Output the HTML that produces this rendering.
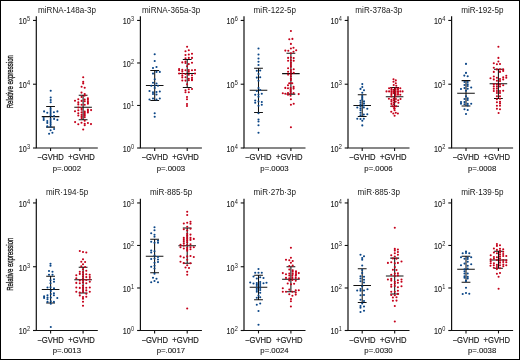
<!DOCTYPE html><html><head><meta charset="utf-8"><style>html,body{margin:0;padding:0;background:#fff;}svg{display:block;will-change:transform;}text{font-family:"Liberation Sans",sans-serif;fill:#1a1a1a;}</style></head><body>
<svg width="520" height="360" viewBox="0 0 520 360">
<rect x="0" y="0" width="520" height="360" fill="#fff"/>
<rect x="0.5" y="0.5" width="519" height="359" fill="none" stroke="#000" stroke-width="1"/>
<text transform="translate(12.6,81.65) rotate(-90)" text-anchor="middle" font-size="9.4" textLength="53.3" lengthAdjust="spacingAndGlyphs" stroke="#1a1a1a" stroke-width="0.35">Relative expression</text>
<text transform="translate(67.05,12.70) scale(0.9643,1)" font-size="8.4" text-anchor="middle">miRNA-148a-3p</text>
<path d="M36.30 16.35V148.00H97.80" fill="none" stroke="#111" stroke-width="1.2"/>
<path d="M50.55 148.00V150.90" stroke="#111" stroke-width="1.1"/>
<path d="M79.90 148.00V150.90" stroke="#111" stroke-width="1.1"/>
<path d="M33.00 148.00H36.30" stroke="#111" stroke-width="1.1"/>
<text transform="translate(26.70,151.90) scale(0.8675,1)" font-size="8.3" text-anchor="end" stroke="#1a1a1a" stroke-width="0.12">10</text>
<text transform="translate(27.00,148.80) scale(0.8750,1)" font-size="6.4" text-anchor="start">3</text>
<path d="M33.00 84.22H36.30" stroke="#111" stroke-width="1.1"/>
<text transform="translate(26.70,88.12) scale(0.8675,1)" font-size="8.3" text-anchor="end" stroke="#1a1a1a" stroke-width="0.12">10</text>
<text transform="translate(27.00,85.02) scale(0.8750,1)" font-size="6.4" text-anchor="start">4</text>
<path d="M33.00 20.45H36.30" stroke="#111" stroke-width="1.1"/>
<text transform="translate(26.70,24.35) scale(0.8675,1)" font-size="8.3" text-anchor="end" stroke="#1a1a1a" stroke-width="0.12">10</text>
<text transform="translate(27.00,21.25) scale(0.8750,1)" font-size="6.4" text-anchor="start">5</text>
<text transform="translate(50.60,160.30) scale(0.8793,1)" font-size="8.7" text-anchor="middle" stroke="#1a1a1a" stroke-width="0.18">−GVHD</text>
<text transform="translate(81.50,160.30) scale(0.8793,1)" font-size="8.7" text-anchor="middle" stroke="#1a1a1a" stroke-width="0.18">+GVHD</text>
<text transform="translate(66.80,170.60) scale(0.9873,1)" font-size="7.9" text-anchor="middle" stroke="#1a1a1a" stroke-width="0.12">p=.0002</text>
<path d="M50.55 106.40V127.10M46.15 106.40H54.95M46.15 127.10H54.95M41.75 116.60H59.35" fill="none" stroke="#111" stroke-width="1.05"/>
<path d="M83.10 95.30V119.70M78.70 95.30H87.50M78.70 119.70H87.50M74.30 107.30H91.90" fill="none" stroke="#111" stroke-width="1.05"/>
<circle cx="50.70" cy="90.80" r="1.05" fill="#0b4687"/>
<circle cx="50.70" cy="97.50" r="1.05" fill="#0b4687"/>
<circle cx="50.70" cy="100.00" r="1.05" fill="#0b4687"/>
<circle cx="50.70" cy="102.30" r="1.05" fill="#0b4687"/>
<circle cx="50.60" cy="108.20" r="1.05" fill="#0b4687"/>
<circle cx="50.60" cy="110.10" r="1.05" fill="#0b4687"/>
<circle cx="50.60" cy="112.00" r="1.05" fill="#0b4687"/>
<circle cx="50.60" cy="113.90" r="1.05" fill="#0b4687"/>
<circle cx="50.60" cy="115.80" r="1.05" fill="#0b4687"/>
<circle cx="50.60" cy="119.10" r="1.05" fill="#0b4687"/>
<circle cx="50.60" cy="121.00" r="1.05" fill="#0b4687"/>
<circle cx="50.60" cy="122.90" r="1.05" fill="#0b4687"/>
<circle cx="50.60" cy="124.80" r="1.05" fill="#0b4687"/>
<circle cx="50.60" cy="126.70" r="1.05" fill="#0b4687"/>
<circle cx="44.10" cy="111.40" r="1.05" fill="#0b4687"/>
<circle cx="47.30" cy="112.80" r="1.05" fill="#0b4687"/>
<circle cx="53.90" cy="112.30" r="1.05" fill="#0b4687"/>
<circle cx="57.40" cy="111.40" r="1.05" fill="#0b4687"/>
<circle cx="43.70" cy="118.00" r="1.05" fill="#0b4687"/>
<circle cx="43.70" cy="119.90" r="1.05" fill="#0b4687"/>
<circle cx="54.10" cy="116.10" r="1.05" fill="#0b4687"/>
<circle cx="54.10" cy="118.90" r="1.05" fill="#0b4687"/>
<circle cx="57.40" cy="119.90" r="1.05" fill="#0b4687"/>
<circle cx="47.30" cy="121.00" r="1.05" fill="#0b4687"/>
<circle cx="47.30" cy="122.90" r="1.05" fill="#0b4687"/>
<circle cx="47.30" cy="126.40" r="1.05" fill="#0b4687"/>
<circle cx="50.60" cy="130.30" r="1.05" fill="#0b4687"/>
<circle cx="54.10" cy="129.00" r="1.05" fill="#0b4687"/>
<circle cx="49.10" cy="133.70" r="1.05" fill="#0b4687"/>
<circle cx="52.40" cy="132.80" r="1.05" fill="#0b4687"/>
<circle cx="83.20" cy="77.30" r="1.05" fill="#c5001a"/>
<circle cx="83.20" cy="81.80" r="1.05" fill="#c5001a"/>
<circle cx="83.20" cy="83.40" r="1.05" fill="#c5001a"/>
<circle cx="81.60" cy="86.80" r="1.05" fill="#c5001a"/>
<circle cx="84.70" cy="87.80" r="1.05" fill="#c5001a"/>
<circle cx="81.50" cy="92.60" r="1.05" fill="#c5001a"/>
<circle cx="84.70" cy="94.00" r="1.05" fill="#c5001a"/>
<circle cx="84.70" cy="95.60" r="1.05" fill="#c5001a"/>
<circle cx="81.60" cy="96.90" r="1.05" fill="#c5001a"/>
<circle cx="78.30" cy="99.20" r="1.05" fill="#c5001a"/>
<circle cx="75.00" cy="100.80" r="1.05" fill="#c5001a"/>
<circle cx="78.30" cy="102.40" r="1.05" fill="#c5001a"/>
<circle cx="78.30" cy="104.40" r="1.05" fill="#c5001a"/>
<circle cx="81.60" cy="100.90" r="1.05" fill="#c5001a"/>
<circle cx="81.60" cy="104.70" r="1.05" fill="#c5001a"/>
<circle cx="84.70" cy="99.50" r="1.05" fill="#c5001a"/>
<circle cx="84.70" cy="101.20" r="1.05" fill="#c5001a"/>
<circle cx="84.70" cy="104.70" r="1.05" fill="#c5001a"/>
<circle cx="87.90" cy="98.20" r="1.05" fill="#c5001a"/>
<circle cx="87.90" cy="99.80" r="1.05" fill="#c5001a"/>
<circle cx="87.90" cy="101.20" r="1.05" fill="#c5001a"/>
<circle cx="87.90" cy="102.70" r="1.05" fill="#c5001a"/>
<circle cx="87.90" cy="103.80" r="1.05" fill="#c5001a"/>
<circle cx="78.30" cy="107.50" r="1.05" fill="#c5001a"/>
<circle cx="78.30" cy="110.30" r="1.05" fill="#c5001a"/>
<circle cx="78.30" cy="113.20" r="1.05" fill="#c5001a"/>
<circle cx="78.30" cy="115.50" r="1.05" fill="#c5001a"/>
<circle cx="75.00" cy="111.20" r="1.05" fill="#c5001a"/>
<circle cx="81.60" cy="108.30" r="1.05" fill="#c5001a"/>
<circle cx="81.60" cy="109.80" r="1.05" fill="#c5001a"/>
<circle cx="81.60" cy="112.40" r="1.05" fill="#c5001a"/>
<circle cx="81.60" cy="114.70" r="1.05" fill="#c5001a"/>
<circle cx="81.60" cy="116.40" r="1.05" fill="#c5001a"/>
<circle cx="81.60" cy="118.10" r="1.05" fill="#c5001a"/>
<circle cx="84.70" cy="111.50" r="1.05" fill="#c5001a"/>
<circle cx="84.70" cy="112.90" r="1.05" fill="#c5001a"/>
<circle cx="84.70" cy="114.40" r="1.05" fill="#c5001a"/>
<circle cx="84.70" cy="115.80" r="1.05" fill="#c5001a"/>
<circle cx="84.70" cy="117.30" r="1.05" fill="#c5001a"/>
<circle cx="87.90" cy="109.50" r="1.05" fill="#c5001a"/>
<circle cx="87.90" cy="110.90" r="1.05" fill="#c5001a"/>
<circle cx="87.90" cy="112.40" r="1.05" fill="#c5001a"/>
<circle cx="91.10" cy="110.10" r="1.05" fill="#c5001a"/>
<circle cx="84.70" cy="120.80" r="1.05" fill="#c5001a"/>
<circle cx="75.10" cy="122.10" r="1.05" fill="#c5001a"/>
<circle cx="78.30" cy="124.20" r="1.05" fill="#c5001a"/>
<circle cx="81.50" cy="122.80" r="1.05" fill="#c5001a"/>
<circle cx="84.70" cy="123.70" r="1.05" fill="#c5001a"/>
<circle cx="84.70" cy="125.30" r="1.05" fill="#c5001a"/>
<circle cx="87.90" cy="123.00" r="1.05" fill="#c5001a"/>
<circle cx="91.00" cy="124.10" r="1.05" fill="#c5001a"/>
<circle cx="83.20" cy="129.50" r="1.05" fill="#c5001a"/>
<text transform="translate(171.15,12.70) scale(0.9643,1)" font-size="8.4" text-anchor="middle">miRNA-365a-3p</text>
<path d="M140.40 16.35V148.00H201.90" fill="none" stroke="#111" stroke-width="1.2"/>
<path d="M154.70 148.00V150.90" stroke="#111" stroke-width="1.1"/>
<path d="M187.20 148.00V150.90" stroke="#111" stroke-width="1.1"/>
<path d="M137.10 148.00H140.40" stroke="#111" stroke-width="1.1"/>
<text transform="translate(130.80,151.90) scale(0.8675,1)" font-size="8.3" text-anchor="end" stroke="#1a1a1a" stroke-width="0.12">10</text>
<text transform="translate(131.10,148.80) scale(0.8750,1)" font-size="6.4" text-anchor="start">0</text>
<path d="M137.10 105.48H140.40" stroke="#111" stroke-width="1.1"/>
<text transform="translate(130.80,109.38) scale(0.8675,1)" font-size="8.3" text-anchor="end" stroke="#1a1a1a" stroke-width="0.12">10</text>
<text transform="translate(131.10,106.28) scale(0.8750,1)" font-size="6.4" text-anchor="start">1</text>
<path d="M137.10 62.97H140.40" stroke="#111" stroke-width="1.1"/>
<text transform="translate(130.80,66.87) scale(0.8675,1)" font-size="8.3" text-anchor="end" stroke="#1a1a1a" stroke-width="0.12">10</text>
<text transform="translate(131.10,63.77) scale(0.8750,1)" font-size="6.4" text-anchor="start">2</text>
<path d="M137.10 20.45H140.40" stroke="#111" stroke-width="1.1"/>
<text transform="translate(130.80,24.35) scale(0.8675,1)" font-size="8.3" text-anchor="end" stroke="#1a1a1a" stroke-width="0.12">10</text>
<text transform="translate(131.10,21.25) scale(0.8750,1)" font-size="6.4" text-anchor="start">3</text>
<text transform="translate(154.70,160.30) scale(0.8793,1)" font-size="8.7" text-anchor="middle" stroke="#1a1a1a" stroke-width="0.18">−GVHD</text>
<text transform="translate(185.60,160.30) scale(0.8793,1)" font-size="8.7" text-anchor="middle" stroke="#1a1a1a" stroke-width="0.18">+GVHD</text>
<text transform="translate(170.90,170.60) scale(0.9873,1)" font-size="7.9" text-anchor="middle" stroke="#1a1a1a" stroke-width="0.12">p=.0003</text>
<path d="M154.70 70.50V100.50M150.30 70.50H159.10M150.30 100.50H159.10M145.90 85.50H163.50" fill="none" stroke="#111" stroke-width="1.05"/>
<path d="M187.20 59.40V87.50M182.80 59.40H191.60M182.80 87.50H191.60M178.40 73.50H196.00" fill="none" stroke="#111" stroke-width="1.05"/>
<circle cx="154.70" cy="54.20" r="1.05" fill="#0b4687"/>
<circle cx="154.70" cy="61.00" r="1.05" fill="#0b4687"/>
<circle cx="153.00" cy="68.00" r="1.05" fill="#0b4687"/>
<circle cx="156.50" cy="67.00" r="1.05" fill="#0b4687"/>
<circle cx="153.00" cy="73.60" r="1.05" fill="#0b4687"/>
<circle cx="156.50" cy="71.90" r="1.05" fill="#0b4687"/>
<circle cx="159.80" cy="71.90" r="1.05" fill="#0b4687"/>
<circle cx="154.70" cy="79.20" r="1.05" fill="#0b4687"/>
<circle cx="153.00" cy="82.80" r="1.05" fill="#0b4687"/>
<circle cx="156.50" cy="83.50" r="1.05" fill="#0b4687"/>
<circle cx="151.30" cy="85.80" r="1.05" fill="#0b4687"/>
<circle cx="154.70" cy="85.50" r="1.05" fill="#0b4687"/>
<circle cx="158.00" cy="85.80" r="1.05" fill="#0b4687"/>
<circle cx="154.70" cy="88.00" r="1.05" fill="#0b4687"/>
<circle cx="149.50" cy="91.00" r="1.05" fill="#0b4687"/>
<circle cx="153.00" cy="92.20" r="1.05" fill="#0b4687"/>
<circle cx="156.50" cy="92.00" r="1.05" fill="#0b4687"/>
<circle cx="159.80" cy="91.50" r="1.05" fill="#0b4687"/>
<circle cx="153.00" cy="94.00" r="1.05" fill="#0b4687"/>
<circle cx="156.50" cy="94.50" r="1.05" fill="#0b4687"/>
<circle cx="153.00" cy="98.50" r="1.05" fill="#0b4687"/>
<circle cx="156.50" cy="99.50" r="1.05" fill="#0b4687"/>
<circle cx="159.80" cy="98.50" r="1.05" fill="#0b4687"/>
<circle cx="149.50" cy="99.50" r="1.05" fill="#0b4687"/>
<circle cx="154.70" cy="113.20" r="1.05" fill="#0b4687"/>
<circle cx="154.70" cy="116.70" r="1.05" fill="#0b4687"/>
<circle cx="187.10" cy="46.70" r="1.05" fill="#c5001a"/>
<circle cx="185.50" cy="51.30" r="1.05" fill="#c5001a"/>
<circle cx="188.80" cy="50.30" r="1.05" fill="#c5001a"/>
<circle cx="185.50" cy="55.00" r="1.05" fill="#c5001a"/>
<circle cx="188.80" cy="54.50" r="1.05" fill="#c5001a"/>
<circle cx="192.00" cy="53.70" r="1.05" fill="#c5001a"/>
<circle cx="185.50" cy="58.30" r="1.05" fill="#c5001a"/>
<circle cx="188.80" cy="57.90" r="1.05" fill="#c5001a"/>
<circle cx="192.00" cy="57.90" r="1.05" fill="#c5001a"/>
<circle cx="182.30" cy="62.40" r="1.05" fill="#c5001a"/>
<circle cx="185.50" cy="61.50" r="1.05" fill="#c5001a"/>
<circle cx="185.50" cy="63.00" r="1.05" fill="#c5001a"/>
<circle cx="192.00" cy="62.80" r="1.05" fill="#c5001a"/>
<circle cx="188.80" cy="64.10" r="1.05" fill="#c5001a"/>
<circle cx="187.10" cy="66.30" r="1.05" fill="#c5001a"/>
<circle cx="179.10" cy="69.00" r="1.05" fill="#c5001a"/>
<circle cx="179.10" cy="70.30" r="1.05" fill="#c5001a"/>
<circle cx="179.10" cy="73.50" r="1.05" fill="#c5001a"/>
<circle cx="182.30" cy="69.70" r="1.05" fill="#c5001a"/>
<circle cx="182.30" cy="71.30" r="1.05" fill="#c5001a"/>
<circle cx="182.30" cy="73.50" r="1.05" fill="#c5001a"/>
<circle cx="182.30" cy="75.50" r="1.05" fill="#c5001a"/>
<circle cx="182.30" cy="77.40" r="1.05" fill="#c5001a"/>
<circle cx="182.30" cy="80.50" r="1.05" fill="#c5001a"/>
<circle cx="185.50" cy="70.30" r="1.05" fill="#c5001a"/>
<circle cx="185.50" cy="74.00" r="1.05" fill="#c5001a"/>
<circle cx="185.50" cy="77.20" r="1.05" fill="#c5001a"/>
<circle cx="185.50" cy="80.60" r="1.05" fill="#c5001a"/>
<circle cx="188.80" cy="70.00" r="1.05" fill="#c5001a"/>
<circle cx="188.80" cy="71.70" r="1.05" fill="#c5001a"/>
<circle cx="188.80" cy="74.70" r="1.05" fill="#c5001a"/>
<circle cx="188.80" cy="78.70" r="1.05" fill="#c5001a"/>
<circle cx="188.80" cy="80.30" r="1.05" fill="#c5001a"/>
<circle cx="192.00" cy="70.30" r="1.05" fill="#c5001a"/>
<circle cx="192.00" cy="75.20" r="1.05" fill="#c5001a"/>
<circle cx="192.00" cy="77.70" r="1.05" fill="#c5001a"/>
<circle cx="192.00" cy="79.20" r="1.05" fill="#c5001a"/>
<circle cx="192.00" cy="80.30" r="1.05" fill="#c5001a"/>
<circle cx="195.00" cy="70.00" r="1.05" fill="#c5001a"/>
<circle cx="195.00" cy="73.50" r="1.05" fill="#c5001a"/>
<circle cx="187.10" cy="84.30" r="1.05" fill="#c5001a"/>
<circle cx="185.50" cy="90.30" r="1.05" fill="#c5001a"/>
<circle cx="185.50" cy="92.30" r="1.05" fill="#c5001a"/>
<circle cx="188.80" cy="89.30" r="1.05" fill="#c5001a"/>
<circle cx="188.80" cy="92.30" r="1.05" fill="#c5001a"/>
<circle cx="192.00" cy="89.00" r="1.05" fill="#c5001a"/>
<circle cx="187.00" cy="97.00" r="1.05" fill="#c5001a"/>
<circle cx="187.00" cy="99.20" r="1.05" fill="#c5001a"/>
<circle cx="187.00" cy="104.00" r="1.05" fill="#c5001a"/>
<circle cx="187.00" cy="106.00" r="1.05" fill="#c5001a"/>
<text transform="translate(274.75,12.70) scale(0.9643,1)" font-size="8.4" text-anchor="middle">miR-122-5p</text>
<path d="M244.00 16.35V148.00H305.50" fill="none" stroke="#111" stroke-width="1.2"/>
<path d="M258.50 148.00V150.90" stroke="#111" stroke-width="1.1"/>
<path d="M290.90 148.00V150.90" stroke="#111" stroke-width="1.1"/>
<path d="M240.70 148.00H244.00" stroke="#111" stroke-width="1.1"/>
<text transform="translate(234.40,151.90) scale(0.8675,1)" font-size="8.3" text-anchor="end" stroke="#1a1a1a" stroke-width="0.12">10</text>
<text transform="translate(234.70,148.80) scale(0.8750,1)" font-size="6.4" text-anchor="start">4</text>
<path d="M240.70 84.22H244.00" stroke="#111" stroke-width="1.1"/>
<text transform="translate(234.40,88.12) scale(0.8675,1)" font-size="8.3" text-anchor="end" stroke="#1a1a1a" stroke-width="0.12">10</text>
<text transform="translate(234.70,85.02) scale(0.8750,1)" font-size="6.4" text-anchor="start">5</text>
<path d="M240.70 20.45H244.00" stroke="#111" stroke-width="1.1"/>
<text transform="translate(234.40,24.35) scale(0.8675,1)" font-size="8.3" text-anchor="end" stroke="#1a1a1a" stroke-width="0.12">10</text>
<text transform="translate(234.70,21.25) scale(0.8750,1)" font-size="6.4" text-anchor="start">6</text>
<text transform="translate(258.30,160.30) scale(0.8793,1)" font-size="8.7" text-anchor="middle" stroke="#1a1a1a" stroke-width="0.18">−GVHD</text>
<text transform="translate(289.20,160.30) scale(0.8793,1)" font-size="8.7" text-anchor="middle" stroke="#1a1a1a" stroke-width="0.18">+GVHD</text>
<text transform="translate(274.50,170.60) scale(0.9873,1)" font-size="7.9" text-anchor="middle" stroke="#1a1a1a" stroke-width="0.12">p=.0003</text>
<path d="M258.50 68.30V112.40M254.10 68.30H262.90M254.10 112.40H262.90M249.70 90.30H267.30" fill="none" stroke="#111" stroke-width="1.05"/>
<path d="M290.90 53.20V94.10M286.50 53.20H295.30M286.50 94.10H295.30M282.10 73.60H299.70" fill="none" stroke="#111" stroke-width="1.05"/>
<circle cx="258.50" cy="48.50" r="1.05" fill="#0b4687"/>
<circle cx="258.50" cy="54.50" r="1.05" fill="#0b4687"/>
<circle cx="258.50" cy="58.50" r="1.05" fill="#0b4687"/>
<circle cx="258.50" cy="61.80" r="1.05" fill="#0b4687"/>
<circle cx="258.50" cy="65.00" r="1.05" fill="#0b4687"/>
<circle cx="256.80" cy="70.80" r="1.05" fill="#0b4687"/>
<circle cx="260.20" cy="70.50" r="1.05" fill="#0b4687"/>
<circle cx="258.50" cy="74.00" r="1.05" fill="#0b4687"/>
<circle cx="256.80" cy="77.60" r="1.05" fill="#0b4687"/>
<circle cx="260.20" cy="77.30" r="1.05" fill="#0b4687"/>
<circle cx="258.50" cy="80.80" r="1.05" fill="#0b4687"/>
<circle cx="258.50" cy="88.00" r="1.05" fill="#0b4687"/>
<circle cx="256.80" cy="91.00" r="1.05" fill="#0b4687"/>
<circle cx="260.20" cy="90.00" r="1.05" fill="#0b4687"/>
<circle cx="255.20" cy="94.80" r="1.05" fill="#0b4687"/>
<circle cx="258.50" cy="94.50" r="1.05" fill="#0b4687"/>
<circle cx="261.80" cy="93.80" r="1.05" fill="#0b4687"/>
<circle cx="258.50" cy="96.80" r="1.05" fill="#0b4687"/>
<circle cx="255.20" cy="100.50" r="1.05" fill="#0b4687"/>
<circle cx="255.20" cy="102.80" r="1.05" fill="#0b4687"/>
<circle cx="258.50" cy="101.50" r="1.05" fill="#0b4687"/>
<circle cx="261.80" cy="102.00" r="1.05" fill="#0b4687"/>
<circle cx="261.80" cy="104.80" r="1.05" fill="#0b4687"/>
<circle cx="258.50" cy="105.80" r="1.05" fill="#0b4687"/>
<circle cx="258.50" cy="113.20" r="1.05" fill="#0b4687"/>
<circle cx="258.50" cy="119.50" r="1.05" fill="#0b4687"/>
<circle cx="258.50" cy="121.50" r="1.05" fill="#0b4687"/>
<circle cx="258.50" cy="125.20" r="1.05" fill="#0b4687"/>
<circle cx="258.50" cy="132.80" r="1.05" fill="#0b4687"/>
<circle cx="290.90" cy="31.00" r="1.05" fill="#c5001a"/>
<circle cx="289.30" cy="39.20" r="1.05" fill="#c5001a"/>
<circle cx="292.40" cy="38.90" r="1.05" fill="#c5001a"/>
<circle cx="290.90" cy="43.90" r="1.05" fill="#c5001a"/>
<circle cx="290.90" cy="48.50" r="1.05" fill="#c5001a"/>
<circle cx="293.50" cy="47.80" r="1.05" fill="#c5001a"/>
<circle cx="285.30" cy="50.60" r="1.05" fill="#c5001a"/>
<circle cx="288.30" cy="50.80" r="1.05" fill="#c5001a"/>
<circle cx="296.20" cy="50.20" r="1.05" fill="#c5001a"/>
<circle cx="293.50" cy="51.80" r="1.05" fill="#c5001a"/>
<circle cx="290.90" cy="53.30" r="1.05" fill="#c5001a"/>
<circle cx="288.10" cy="57.90" r="1.05" fill="#c5001a"/>
<circle cx="290.90" cy="57.50" r="1.05" fill="#c5001a"/>
<circle cx="293.70" cy="58.10" r="1.05" fill="#c5001a"/>
<circle cx="288.10" cy="60.80" r="1.05" fill="#c5001a"/>
<circle cx="290.90" cy="60.40" r="1.05" fill="#c5001a"/>
<circle cx="293.70" cy="60.80" r="1.05" fill="#c5001a"/>
<circle cx="290.90" cy="62.90" r="1.05" fill="#c5001a"/>
<circle cx="290.90" cy="65.00" r="1.05" fill="#c5001a"/>
<circle cx="290.90" cy="66.70" r="1.05" fill="#c5001a"/>
<circle cx="288.10" cy="68.30" r="1.05" fill="#c5001a"/>
<circle cx="293.70" cy="69.30" r="1.05" fill="#c5001a"/>
<circle cx="290.90" cy="70.00" r="1.05" fill="#c5001a"/>
<circle cx="288.10" cy="71.70" r="1.05" fill="#c5001a"/>
<circle cx="290.90" cy="72.10" r="1.05" fill="#c5001a"/>
<circle cx="293.70" cy="72.70" r="1.05" fill="#c5001a"/>
<circle cx="288.10" cy="74.60" r="1.05" fill="#c5001a"/>
<circle cx="290.90" cy="74.20" r="1.05" fill="#c5001a"/>
<circle cx="290.90" cy="76.30" r="1.05" fill="#c5001a"/>
<circle cx="290.90" cy="78.60" r="1.05" fill="#c5001a"/>
<circle cx="290.90" cy="80.00" r="1.05" fill="#c5001a"/>
<circle cx="289.20" cy="83.30" r="1.05" fill="#c5001a"/>
<circle cx="290.90" cy="83.30" r="1.05" fill="#c5001a"/>
<circle cx="292.30" cy="83.30" r="1.05" fill="#c5001a"/>
<circle cx="288.00" cy="85.20" r="1.05" fill="#c5001a"/>
<circle cx="285.30" cy="87.90" r="1.05" fill="#c5001a"/>
<circle cx="288.00" cy="88.30" r="1.05" fill="#c5001a"/>
<circle cx="290.60" cy="88.00" r="1.05" fill="#c5001a"/>
<circle cx="290.60" cy="89.70" r="1.05" fill="#c5001a"/>
<circle cx="293.60" cy="86.90" r="1.05" fill="#c5001a"/>
<circle cx="293.60" cy="88.60" r="1.05" fill="#c5001a"/>
<circle cx="290.60" cy="91.30" r="1.05" fill="#c5001a"/>
<circle cx="282.80" cy="93.30" r="1.05" fill="#c5001a"/>
<circle cx="285.30" cy="93.80" r="1.05" fill="#c5001a"/>
<circle cx="288.00" cy="93.00" r="1.05" fill="#c5001a"/>
<circle cx="288.00" cy="94.70" r="1.05" fill="#c5001a"/>
<circle cx="290.60" cy="93.30" r="1.05" fill="#c5001a"/>
<circle cx="290.60" cy="95.80" r="1.05" fill="#c5001a"/>
<circle cx="293.60" cy="93.00" r="1.05" fill="#c5001a"/>
<circle cx="298.70" cy="94.10" r="1.05" fill="#c5001a"/>
<circle cx="290.90" cy="99.30" r="1.05" fill="#c5001a"/>
<circle cx="290.90" cy="104.80" r="1.05" fill="#c5001a"/>
<circle cx="293.70" cy="103.80" r="1.05" fill="#c5001a"/>
<circle cx="290.90" cy="127.30" r="1.05" fill="#c5001a"/>
<text transform="translate(378.75,12.70) scale(0.9643,1)" font-size="8.4" text-anchor="middle">miR-378a-3p</text>
<path d="M348.00 16.35V148.00H409.50" fill="none" stroke="#111" stroke-width="1.2"/>
<path d="M362.20 148.00V150.90" stroke="#111" stroke-width="1.1"/>
<path d="M394.60 148.00V150.90" stroke="#111" stroke-width="1.1"/>
<path d="M344.70 148.00H348.00" stroke="#111" stroke-width="1.1"/>
<text transform="translate(338.40,151.90) scale(0.8675,1)" font-size="8.3" text-anchor="end" stroke="#1a1a1a" stroke-width="0.12">10</text>
<text transform="translate(338.70,148.80) scale(0.8750,1)" font-size="6.4" text-anchor="start">2</text>
<path d="M344.70 84.22H348.00" stroke="#111" stroke-width="1.1"/>
<text transform="translate(338.40,88.12) scale(0.8675,1)" font-size="8.3" text-anchor="end" stroke="#1a1a1a" stroke-width="0.12">10</text>
<text transform="translate(338.70,85.02) scale(0.8750,1)" font-size="6.4" text-anchor="start">3</text>
<path d="M344.70 20.45H348.00" stroke="#111" stroke-width="1.1"/>
<text transform="translate(338.40,24.35) scale(0.8675,1)" font-size="8.3" text-anchor="end" stroke="#1a1a1a" stroke-width="0.12">10</text>
<text transform="translate(338.70,21.25) scale(0.8750,1)" font-size="6.4" text-anchor="start">4</text>
<text transform="translate(362.30,160.30) scale(0.8793,1)" font-size="8.7" text-anchor="middle" stroke="#1a1a1a" stroke-width="0.18">−GVHD</text>
<text transform="translate(393.20,160.30) scale(0.8793,1)" font-size="8.7" text-anchor="middle" stroke="#1a1a1a" stroke-width="0.18">+GVHD</text>
<text transform="translate(378.50,170.60) scale(0.9873,1)" font-size="7.9" text-anchor="middle" stroke="#1a1a1a" stroke-width="0.12">p=.0006</text>
<path d="M362.20 94.75V116.40M357.80 94.75H366.60M357.80 116.40H366.60M353.40 105.50H371.00" fill="none" stroke="#111" stroke-width="1.05"/>
<path d="M394.60 87.40V106.20M390.20 87.40H399.00M390.20 106.20H399.00M385.80 96.70H403.40" fill="none" stroke="#111" stroke-width="1.05"/>
<circle cx="362.30" cy="84.10" r="1.05" fill="#0b4687"/>
<circle cx="362.30" cy="87.00" r="1.05" fill="#0b4687"/>
<circle cx="360.50" cy="88.90" r="1.05" fill="#0b4687"/>
<circle cx="364.00" cy="90.30" r="1.05" fill="#0b4687"/>
<circle cx="362.30" cy="92.70" r="1.05" fill="#0b4687"/>
<circle cx="362.30" cy="96.00" r="1.05" fill="#0b4687"/>
<circle cx="362.30" cy="97.80" r="1.05" fill="#0b4687"/>
<circle cx="362.30" cy="99.30" r="1.05" fill="#0b4687"/>
<circle cx="360.50" cy="100.80" r="1.05" fill="#0b4687"/>
<circle cx="360.50" cy="102.70" r="1.05" fill="#0b4687"/>
<circle cx="360.50" cy="104.75" r="1.05" fill="#0b4687"/>
<circle cx="364.00" cy="101.40" r="1.05" fill="#0b4687"/>
<circle cx="364.00" cy="103.50" r="1.05" fill="#0b4687"/>
<circle cx="360.50" cy="106.50" r="1.05" fill="#0b4687"/>
<circle cx="360.50" cy="108.50" r="1.05" fill="#0b4687"/>
<circle cx="360.50" cy="110.30" r="1.05" fill="#0b4687"/>
<circle cx="363.80" cy="105.50" r="1.05" fill="#0b4687"/>
<circle cx="363.80" cy="107.50" r="1.05" fill="#0b4687"/>
<circle cx="357.30" cy="107.50" r="1.05" fill="#0b4687"/>
<circle cx="367.30" cy="108.75" r="1.05" fill="#0b4687"/>
<circle cx="360.50" cy="112.70" r="1.05" fill="#0b4687"/>
<circle cx="363.80" cy="114.60" r="1.05" fill="#0b4687"/>
<circle cx="367.30" cy="114.30" r="1.05" fill="#0b4687"/>
<circle cx="360.50" cy="115.40" r="1.05" fill="#0b4687"/>
<circle cx="357.30" cy="118.75" r="1.05" fill="#0b4687"/>
<circle cx="360.50" cy="119.00" r="1.05" fill="#0b4687"/>
<circle cx="363.80" cy="118.75" r="1.05" fill="#0b4687"/>
<circle cx="362.30" cy="120.80" r="1.05" fill="#0b4687"/>
<circle cx="362.30" cy="125.40" r="1.05" fill="#0b4687"/>
<circle cx="393.50" cy="79.20" r="1.05" fill="#c5001a"/>
<circle cx="395.80" cy="80.40" r="1.05" fill="#c5001a"/>
<circle cx="393.50" cy="81.70" r="1.05" fill="#c5001a"/>
<circle cx="395.80" cy="83.20" r="1.05" fill="#c5001a"/>
<circle cx="393.70" cy="85.00" r="1.05" fill="#c5001a"/>
<circle cx="396.30" cy="85.80" r="1.05" fill="#c5001a"/>
<circle cx="389.10" cy="88.20" r="1.05" fill="#c5001a"/>
<circle cx="391.40" cy="88.20" r="1.05" fill="#c5001a"/>
<circle cx="395.60" cy="88.20" r="1.05" fill="#c5001a"/>
<circle cx="398.00" cy="88.20" r="1.05" fill="#c5001a"/>
<circle cx="400.30" cy="88.20" r="1.05" fill="#c5001a"/>
<circle cx="391.40" cy="89.80" r="1.05" fill="#c5001a"/>
<circle cx="393.50" cy="89.80" r="1.05" fill="#c5001a"/>
<circle cx="395.60" cy="89.80" r="1.05" fill="#c5001a"/>
<circle cx="398.00" cy="89.80" r="1.05" fill="#c5001a"/>
<circle cx="386.50" cy="91.40" r="1.05" fill="#c5001a"/>
<circle cx="389.10" cy="91.40" r="1.05" fill="#c5001a"/>
<circle cx="391.40" cy="91.40" r="1.05" fill="#c5001a"/>
<circle cx="393.50" cy="91.40" r="1.05" fill="#c5001a"/>
<circle cx="395.60" cy="91.40" r="1.05" fill="#c5001a"/>
<circle cx="398.00" cy="91.40" r="1.05" fill="#c5001a"/>
<circle cx="400.30" cy="91.40" r="1.05" fill="#c5001a"/>
<circle cx="402.60" cy="91.40" r="1.05" fill="#c5001a"/>
<circle cx="391.40" cy="93.10" r="1.05" fill="#c5001a"/>
<circle cx="393.50" cy="93.10" r="1.05" fill="#c5001a"/>
<circle cx="395.60" cy="93.10" r="1.05" fill="#c5001a"/>
<circle cx="398.00" cy="93.10" r="1.05" fill="#c5001a"/>
<circle cx="391.40" cy="94.70" r="1.05" fill="#c5001a"/>
<circle cx="395.60" cy="94.70" r="1.05" fill="#c5001a"/>
<circle cx="398.00" cy="94.70" r="1.05" fill="#c5001a"/>
<circle cx="400.30" cy="94.70" r="1.05" fill="#c5001a"/>
<circle cx="391.40" cy="96.40" r="1.05" fill="#c5001a"/>
<circle cx="395.60" cy="96.40" r="1.05" fill="#c5001a"/>
<circle cx="388.90" cy="98.80" r="1.05" fill="#c5001a"/>
<circle cx="391.40" cy="99.70" r="1.05" fill="#c5001a"/>
<circle cx="393.70" cy="98.60" r="1.05" fill="#c5001a"/>
<circle cx="395.90" cy="99.00" r="1.05" fill="#c5001a"/>
<circle cx="400.50" cy="99.00" r="1.05" fill="#c5001a"/>
<circle cx="391.40" cy="101.40" r="1.05" fill="#c5001a"/>
<circle cx="393.70" cy="100.30" r="1.05" fill="#c5001a"/>
<circle cx="393.70" cy="102.60" r="1.05" fill="#c5001a"/>
<circle cx="395.70" cy="101.60" r="1.05" fill="#c5001a"/>
<circle cx="398.20" cy="100.30" r="1.05" fill="#c5001a"/>
<circle cx="398.40" cy="102.80" r="1.05" fill="#c5001a"/>
<circle cx="391.40" cy="103.90" r="1.05" fill="#c5001a"/>
<circle cx="393.70" cy="104.50" r="1.05" fill="#c5001a"/>
<circle cx="392.30" cy="106.20" r="1.05" fill="#c5001a"/>
<circle cx="394.20" cy="106.90" r="1.05" fill="#c5001a"/>
<circle cx="396.10" cy="106.20" r="1.05" fill="#c5001a"/>
<circle cx="394.20" cy="108.60" r="1.05" fill="#c5001a"/>
<circle cx="394.60" cy="108.50" r="1.05" fill="#c5001a"/>
<circle cx="394.60" cy="110.20" r="1.05" fill="#c5001a"/>
<circle cx="391.25" cy="111.80" r="1.05" fill="#c5001a"/>
<circle cx="393.30" cy="113.50" r="1.05" fill="#c5001a"/>
<circle cx="395.80" cy="112.70" r="1.05" fill="#c5001a"/>
<circle cx="397.90" cy="113.50" r="1.05" fill="#c5001a"/>
<circle cx="394.60" cy="115.80" r="1.05" fill="#c5001a"/>
<text transform="translate(482.35,12.70) scale(0.9643,1)" font-size="8.4" text-anchor="middle">miR-192-5p</text>
<path d="M451.60 16.35V148.00H513.10" fill="none" stroke="#111" stroke-width="1.2"/>
<path d="M466.00 148.00V150.90" stroke="#111" stroke-width="1.1"/>
<path d="M498.40 148.00V150.90" stroke="#111" stroke-width="1.1"/>
<path d="M448.30 148.00H451.60" stroke="#111" stroke-width="1.1"/>
<text transform="translate(442.00,151.90) scale(0.8675,1)" font-size="8.3" text-anchor="end" stroke="#1a1a1a" stroke-width="0.12">10</text>
<text transform="translate(442.30,148.80) scale(0.8750,1)" font-size="6.4" text-anchor="start">2</text>
<path d="M448.30 84.22H451.60" stroke="#111" stroke-width="1.1"/>
<text transform="translate(442.00,88.12) scale(0.8675,1)" font-size="8.3" text-anchor="end" stroke="#1a1a1a" stroke-width="0.12">10</text>
<text transform="translate(442.30,85.02) scale(0.8750,1)" font-size="6.4" text-anchor="start">3</text>
<path d="M448.30 20.45H451.60" stroke="#111" stroke-width="1.1"/>
<text transform="translate(442.00,24.35) scale(0.8675,1)" font-size="8.3" text-anchor="end" stroke="#1a1a1a" stroke-width="0.12">10</text>
<text transform="translate(442.30,21.25) scale(0.8750,1)" font-size="6.4" text-anchor="start">4</text>
<text transform="translate(465.90,160.30) scale(0.8793,1)" font-size="8.7" text-anchor="middle" stroke="#1a1a1a" stroke-width="0.18">−GVHD</text>
<text transform="translate(496.80,160.30) scale(0.8793,1)" font-size="8.7" text-anchor="middle" stroke="#1a1a1a" stroke-width="0.18">+GVHD</text>
<text transform="translate(482.10,170.60) scale(0.9873,1)" font-size="7.9" text-anchor="middle" stroke="#1a1a1a" stroke-width="0.12">p=.0008</text>
<path d="M466.00 80.60V105.90M461.60 80.60H470.40M461.60 105.90H470.40M457.20 93.20H474.80" fill="none" stroke="#111" stroke-width="1.05"/>
<path d="M498.40 69.20V98.40M494.00 69.20H502.80M494.00 98.40H502.80M489.60 83.80H507.20" fill="none" stroke="#111" stroke-width="1.05"/>
<circle cx="466.00" cy="63.90" r="1.05" fill="#0b4687"/>
<circle cx="466.00" cy="72.90" r="1.05" fill="#0b4687"/>
<circle cx="464.30" cy="75.60" r="1.05" fill="#0b4687"/>
<circle cx="467.70" cy="76.25" r="1.05" fill="#0b4687"/>
<circle cx="464.50" cy="82.00" r="1.05" fill="#0b4687"/>
<circle cx="467.70" cy="82.00" r="1.05" fill="#0b4687"/>
<circle cx="464.50" cy="85.00" r="1.05" fill="#0b4687"/>
<circle cx="467.70" cy="84.20" r="1.05" fill="#0b4687"/>
<circle cx="467.70" cy="86.00" r="1.05" fill="#0b4687"/>
<circle cx="461.00" cy="89.00" r="1.05" fill="#0b4687"/>
<circle cx="464.50" cy="88.10" r="1.05" fill="#0b4687"/>
<circle cx="467.70" cy="88.75" r="1.05" fill="#0b4687"/>
<circle cx="471.20" cy="87.50" r="1.05" fill="#0b4687"/>
<circle cx="466.00" cy="90.80" r="1.05" fill="#0b4687"/>
<circle cx="466.00" cy="96.25" r="1.05" fill="#0b4687"/>
<circle cx="464.50" cy="99.00" r="1.05" fill="#0b4687"/>
<circle cx="467.70" cy="98.20" r="1.05" fill="#0b4687"/>
<circle cx="467.70" cy="100.00" r="1.05" fill="#0b4687"/>
<circle cx="461.00" cy="102.10" r="1.05" fill="#0b4687"/>
<circle cx="461.00" cy="103.75" r="1.05" fill="#0b4687"/>
<circle cx="464.50" cy="102.10" r="1.05" fill="#0b4687"/>
<circle cx="464.50" cy="104.20" r="1.05" fill="#0b4687"/>
<circle cx="467.70" cy="103.75" r="1.05" fill="#0b4687"/>
<circle cx="467.70" cy="105.40" r="1.05" fill="#0b4687"/>
<circle cx="471.20" cy="103.75" r="1.05" fill="#0b4687"/>
<circle cx="464.50" cy="109.30" r="1.05" fill="#0b4687"/>
<circle cx="467.70" cy="110.00" r="1.05" fill="#0b4687"/>
<circle cx="466.00" cy="114.00" r="1.05" fill="#0b4687"/>
<circle cx="498.40" cy="46.80" r="1.05" fill="#c5001a"/>
<circle cx="498.40" cy="57.90" r="1.05" fill="#c5001a"/>
<circle cx="498.40" cy="61.50" r="1.05" fill="#c5001a"/>
<circle cx="493.80" cy="63.20" r="1.05" fill="#c5001a"/>
<circle cx="496.90" cy="64.30" r="1.05" fill="#c5001a"/>
<circle cx="500.00" cy="64.00" r="1.05" fill="#c5001a"/>
<circle cx="493.80" cy="67.80" r="1.05" fill="#c5001a"/>
<circle cx="496.90" cy="69.40" r="1.05" fill="#c5001a"/>
<circle cx="500.00" cy="69.40" r="1.05" fill="#c5001a"/>
<circle cx="503.20" cy="69.40" r="1.05" fill="#c5001a"/>
<circle cx="493.80" cy="71.90" r="1.05" fill="#c5001a"/>
<circle cx="500.00" cy="71.90" r="1.05" fill="#c5001a"/>
<circle cx="503.20" cy="70.90" r="1.05" fill="#c5001a"/>
<circle cx="490.50" cy="78.20" r="1.05" fill="#c5001a"/>
<circle cx="493.80" cy="76.50" r="1.05" fill="#c5001a"/>
<circle cx="493.80" cy="79.40" r="1.05" fill="#c5001a"/>
<circle cx="496.90" cy="77.75" r="1.05" fill="#c5001a"/>
<circle cx="496.90" cy="80.70" r="1.05" fill="#c5001a"/>
<circle cx="500.00" cy="79.00" r="1.05" fill="#c5001a"/>
<circle cx="500.00" cy="81.10" r="1.05" fill="#c5001a"/>
<circle cx="503.20" cy="77.30" r="1.05" fill="#c5001a"/>
<circle cx="503.20" cy="79.40" r="1.05" fill="#c5001a"/>
<circle cx="506.30" cy="75.70" r="1.05" fill="#c5001a"/>
<circle cx="506.30" cy="77.75" r="1.05" fill="#c5001a"/>
<circle cx="493.80" cy="84.40" r="1.05" fill="#c5001a"/>
<circle cx="493.80" cy="86.50" r="1.05" fill="#c5001a"/>
<circle cx="493.80" cy="88.80" r="1.05" fill="#c5001a"/>
<circle cx="493.80" cy="91.00" r="1.05" fill="#c5001a"/>
<circle cx="496.90" cy="84.40" r="1.05" fill="#c5001a"/>
<circle cx="496.90" cy="86.50" r="1.05" fill="#c5001a"/>
<circle cx="496.90" cy="88.60" r="1.05" fill="#c5001a"/>
<circle cx="496.90" cy="91.00" r="1.05" fill="#c5001a"/>
<circle cx="496.90" cy="93.00" r="1.05" fill="#c5001a"/>
<circle cx="500.00" cy="84.40" r="1.05" fill="#c5001a"/>
<circle cx="500.00" cy="86.50" r="1.05" fill="#c5001a"/>
<circle cx="500.00" cy="91.00" r="1.05" fill="#c5001a"/>
<circle cx="500.00" cy="93.00" r="1.05" fill="#c5001a"/>
<circle cx="503.20" cy="85.25" r="1.05" fill="#c5001a"/>
<circle cx="503.20" cy="90.70" r="1.05" fill="#c5001a"/>
<circle cx="496.90" cy="96.30" r="1.05" fill="#c5001a"/>
<circle cx="500.00" cy="96.30" r="1.05" fill="#c5001a"/>
<circle cx="496.90" cy="99.25" r="1.05" fill="#c5001a"/>
<circle cx="500.00" cy="98.70" r="1.05" fill="#c5001a"/>
<circle cx="496.90" cy="102.30" r="1.05" fill="#c5001a"/>
<circle cx="500.00" cy="101.75" r="1.05" fill="#c5001a"/>
<circle cx="500.00" cy="103.40" r="1.05" fill="#c5001a"/>
<circle cx="496.90" cy="105.70" r="1.05" fill="#c5001a"/>
<circle cx="500.00" cy="105.70" r="1.05" fill="#c5001a"/>
<circle cx="496.90" cy="108.70" r="1.05" fill="#c5001a"/>
<circle cx="500.00" cy="109.25" r="1.05" fill="#c5001a"/>
<circle cx="498.60" cy="113.00" r="1.05" fill="#c5001a"/>
<text transform="translate(12.6,264.15) rotate(-90)" text-anchor="middle" font-size="9.4" textLength="53.3" lengthAdjust="spacingAndGlyphs" stroke="#1a1a1a" stroke-width="0.35">Relative expression</text>
<text transform="translate(67.05,195.20) scale(0.9643,1)" font-size="8.4" text-anchor="middle">miR·194·5p</text>
<path d="M36.30 198.85V330.50H97.80" fill="none" stroke="#111" stroke-width="1.2"/>
<path d="M50.60 330.50V333.40" stroke="#111" stroke-width="1.1"/>
<path d="M83.10 330.50V333.40" stroke="#111" stroke-width="1.1"/>
<path d="M33.00 330.50H36.30" stroke="#111" stroke-width="1.1"/>
<text transform="translate(26.70,334.40) scale(0.8675,1)" font-size="8.3" text-anchor="end" stroke="#1a1a1a" stroke-width="0.12">10</text>
<text transform="translate(27.00,331.30) scale(0.8750,1)" font-size="6.4" text-anchor="start">2</text>
<path d="M33.00 266.73H36.30" stroke="#111" stroke-width="1.1"/>
<text transform="translate(26.70,270.62) scale(0.8675,1)" font-size="8.3" text-anchor="end" stroke="#1a1a1a" stroke-width="0.12">10</text>
<text transform="translate(27.00,267.53) scale(0.8750,1)" font-size="6.4" text-anchor="start">3</text>
<path d="M33.00 202.95H36.30" stroke="#111" stroke-width="1.1"/>
<text transform="translate(26.70,206.85) scale(0.8675,1)" font-size="8.3" text-anchor="end" stroke="#1a1a1a" stroke-width="0.12">10</text>
<text transform="translate(27.00,203.75) scale(0.8750,1)" font-size="6.4" text-anchor="start">4</text>
<text transform="translate(50.60,342.80) scale(0.8793,1)" font-size="8.7" text-anchor="middle" stroke="#1a1a1a" stroke-width="0.18">−GVHD</text>
<text transform="translate(81.50,342.80) scale(0.8793,1)" font-size="8.7" text-anchor="middle" stroke="#1a1a1a" stroke-width="0.18">+GVHD</text>
<text transform="translate(66.80,353.10) scale(0.9873,1)" font-size="7.9" text-anchor="middle" stroke="#1a1a1a" stroke-width="0.12">p=.0013</text>
<path d="M50.60 276.30V302.90M46.20 276.30H55.00M46.20 302.90H55.00M41.80 289.40H59.40" fill="none" stroke="#111" stroke-width="1.05"/>
<path d="M83.10 267.25V292.90M78.70 267.25H87.50M78.70 292.90H87.50M74.30 279.80H91.90" fill="none" stroke="#111" stroke-width="1.05"/>
<circle cx="50.50" cy="263.80" r="1.05" fill="#0b4687"/>
<circle cx="50.50" cy="265.80" r="1.05" fill="#0b4687"/>
<circle cx="49.00" cy="271.00" r="1.05" fill="#0b4687"/>
<circle cx="52.50" cy="271.70" r="1.05" fill="#0b4687"/>
<circle cx="49.00" cy="274.80" r="1.05" fill="#0b4687"/>
<circle cx="52.50" cy="274.80" r="1.05" fill="#0b4687"/>
<circle cx="50.50" cy="280.30" r="1.05" fill="#0b4687"/>
<circle cx="54.00" cy="279.20" r="1.05" fill="#0b4687"/>
<circle cx="54.00" cy="281.80" r="1.05" fill="#0b4687"/>
<circle cx="50.50" cy="283.20" r="1.05" fill="#0b4687"/>
<circle cx="47.50" cy="287.50" r="1.05" fill="#0b4687"/>
<circle cx="50.50" cy="287.20" r="1.05" fill="#0b4687"/>
<circle cx="54.00" cy="288.40" r="1.05" fill="#0b4687"/>
<circle cx="50.80" cy="290.90" r="1.05" fill="#0b4687"/>
<circle cx="50.80" cy="294.00" r="1.05" fill="#0b4687"/>
<circle cx="50.80" cy="297.60" r="1.05" fill="#0b4687"/>
<circle cx="50.80" cy="301.30" r="1.05" fill="#0b4687"/>
<circle cx="50.80" cy="303.70" r="1.05" fill="#0b4687"/>
<circle cx="44.10" cy="296.40" r="1.05" fill="#0b4687"/>
<circle cx="44.10" cy="297.90" r="1.05" fill="#0b4687"/>
<circle cx="47.50" cy="295.20" r="1.05" fill="#0b4687"/>
<circle cx="47.50" cy="297.60" r="1.05" fill="#0b4687"/>
<circle cx="47.50" cy="299.30" r="1.05" fill="#0b4687"/>
<circle cx="53.90" cy="293.30" r="1.05" fill="#0b4687"/>
<circle cx="53.90" cy="295.20" r="1.05" fill="#0b4687"/>
<circle cx="57.30" cy="298.00" r="1.05" fill="#0b4687"/>
<circle cx="47.50" cy="301.90" r="1.05" fill="#0b4687"/>
<circle cx="53.90" cy="301.90" r="1.05" fill="#0b4687"/>
<circle cx="50.80" cy="327.00" r="1.05" fill="#0b4687"/>
<circle cx="79.80" cy="251.00" r="1.05" fill="#c5001a"/>
<circle cx="83.00" cy="252.00" r="1.05" fill="#c5001a"/>
<circle cx="86.30" cy="252.50" r="1.05" fill="#c5001a"/>
<circle cx="83.00" cy="259.20" r="1.05" fill="#c5001a"/>
<circle cx="81.30" cy="261.70" r="1.05" fill="#c5001a"/>
<circle cx="85.10" cy="262.00" r="1.05" fill="#c5001a"/>
<circle cx="83.00" cy="264.20" r="1.05" fill="#c5001a"/>
<circle cx="81.30" cy="266.40" r="1.05" fill="#c5001a"/>
<circle cx="85.10" cy="267.00" r="1.05" fill="#c5001a"/>
<circle cx="83.00" cy="269.30" r="1.05" fill="#c5001a"/>
<circle cx="86.30" cy="270.80" r="1.05" fill="#c5001a"/>
<circle cx="79.80" cy="271.80" r="1.05" fill="#c5001a"/>
<circle cx="79.80" cy="273.90" r="1.05" fill="#c5001a"/>
<circle cx="83.00" cy="272.10" r="1.05" fill="#c5001a"/>
<circle cx="83.00" cy="274.20" r="1.05" fill="#c5001a"/>
<circle cx="86.30" cy="274.30" r="1.05" fill="#c5001a"/>
<circle cx="89.70" cy="274.75" r="1.05" fill="#c5001a"/>
<circle cx="76.30" cy="275.30" r="1.05" fill="#c5001a"/>
<circle cx="86.30" cy="277.10" r="1.05" fill="#c5001a"/>
<circle cx="83.00" cy="276.25" r="1.05" fill="#c5001a"/>
<circle cx="83.00" cy="278.30" r="1.05" fill="#c5001a"/>
<circle cx="83.00" cy="280.40" r="1.05" fill="#c5001a"/>
<circle cx="83.00" cy="282.50" r="1.05" fill="#c5001a"/>
<circle cx="76.30" cy="278.30" r="1.05" fill="#c5001a"/>
<circle cx="89.80" cy="277.10" r="1.05" fill="#c5001a"/>
<circle cx="89.80" cy="279.20" r="1.05" fill="#c5001a"/>
<circle cx="89.80" cy="281.70" r="1.05" fill="#c5001a"/>
<circle cx="76.30" cy="282.90" r="1.05" fill="#c5001a"/>
<circle cx="79.80" cy="280.40" r="1.05" fill="#c5001a"/>
<circle cx="79.80" cy="283.20" r="1.05" fill="#c5001a"/>
<circle cx="86.30" cy="280.00" r="1.05" fill="#c5001a"/>
<circle cx="86.30" cy="283.30" r="1.05" fill="#c5001a"/>
<circle cx="83.00" cy="285.80" r="1.05" fill="#c5001a"/>
<circle cx="83.00" cy="287.90" r="1.05" fill="#c5001a"/>
<circle cx="83.00" cy="290.00" r="1.05" fill="#c5001a"/>
<circle cx="83.00" cy="292.00" r="1.05" fill="#c5001a"/>
<circle cx="76.30" cy="287.50" r="1.05" fill="#c5001a"/>
<circle cx="79.80" cy="287.90" r="1.05" fill="#c5001a"/>
<circle cx="86.30" cy="287.70" r="1.05" fill="#c5001a"/>
<circle cx="89.80" cy="287.50" r="1.05" fill="#c5001a"/>
<circle cx="86.30" cy="290.40" r="1.05" fill="#c5001a"/>
<circle cx="76.30" cy="291.80" r="1.05" fill="#c5001a"/>
<circle cx="79.80" cy="292.50" r="1.05" fill="#c5001a"/>
<circle cx="89.80" cy="291.80" r="1.05" fill="#c5001a"/>
<circle cx="86.30" cy="293.75" r="1.05" fill="#c5001a"/>
<circle cx="79.80" cy="295.40" r="1.05" fill="#c5001a"/>
<circle cx="83.00" cy="297.10" r="1.05" fill="#c5001a"/>
<circle cx="83.00" cy="298.75" r="1.05" fill="#c5001a"/>
<circle cx="86.30" cy="296.80" r="1.05" fill="#c5001a"/>
<circle cx="83.00" cy="301.80" r="1.05" fill="#c5001a"/>
<circle cx="83.00" cy="305.80" r="1.05" fill="#c5001a"/>
<text transform="translate(171.15,195.20) scale(0.9643,1)" font-size="8.4" text-anchor="middle">miR·885·5p</text>
<path d="M140.40 198.85V330.50H201.90" fill="none" stroke="#111" stroke-width="1.2"/>
<path d="M154.60 330.50V333.40" stroke="#111" stroke-width="1.1"/>
<path d="M187.20 330.50V333.40" stroke="#111" stroke-width="1.1"/>
<path d="M137.10 330.50H140.40" stroke="#111" stroke-width="1.1"/>
<text transform="translate(130.80,334.40) scale(0.8675,1)" font-size="8.3" text-anchor="end" stroke="#1a1a1a" stroke-width="0.12">10</text>
<text transform="translate(131.10,331.30) scale(0.8750,1)" font-size="6.4" text-anchor="start">0</text>
<path d="M137.10 287.98H140.40" stroke="#111" stroke-width="1.1"/>
<text transform="translate(130.80,291.88) scale(0.8675,1)" font-size="8.3" text-anchor="end" stroke="#1a1a1a" stroke-width="0.12">10</text>
<text transform="translate(131.10,288.78) scale(0.8750,1)" font-size="6.4" text-anchor="start">1</text>
<path d="M137.10 245.47H140.40" stroke="#111" stroke-width="1.1"/>
<text transform="translate(130.80,249.37) scale(0.8675,1)" font-size="8.3" text-anchor="end" stroke="#1a1a1a" stroke-width="0.12">10</text>
<text transform="translate(131.10,246.27) scale(0.8750,1)" font-size="6.4" text-anchor="start">2</text>
<path d="M137.10 202.95H140.40" stroke="#111" stroke-width="1.1"/>
<text transform="translate(130.80,206.85) scale(0.8675,1)" font-size="8.3" text-anchor="end" stroke="#1a1a1a" stroke-width="0.12">10</text>
<text transform="translate(131.10,203.75) scale(0.8750,1)" font-size="6.4" text-anchor="start">3</text>
<text transform="translate(154.70,342.80) scale(0.8793,1)" font-size="8.7" text-anchor="middle" stroke="#1a1a1a" stroke-width="0.18">−GVHD</text>
<text transform="translate(185.60,342.80) scale(0.8793,1)" font-size="8.7" text-anchor="middle" stroke="#1a1a1a" stroke-width="0.18">+GVHD</text>
<text transform="translate(170.90,353.10) scale(0.9873,1)" font-size="7.9" text-anchor="middle" stroke="#1a1a1a" stroke-width="0.12">p=.0017</text>
<path d="M154.60 239.20V272.80M150.20 239.20H159.00M150.20 272.80H159.00M145.80 256.30H163.40" fill="none" stroke="#111" stroke-width="1.05"/>
<path d="M187.20 227.90V263.30M182.80 227.90H191.60M182.80 263.30H191.60M178.40 245.80H196.00" fill="none" stroke="#111" stroke-width="1.05"/>
<circle cx="154.50" cy="227.20" r="1.05" fill="#0b4687"/>
<circle cx="154.50" cy="230.20" r="1.05" fill="#0b4687"/>
<circle cx="151.20" cy="233.20" r="1.05" fill="#0b4687"/>
<circle cx="154.50" cy="234.70" r="1.05" fill="#0b4687"/>
<circle cx="154.50" cy="236.80" r="1.05" fill="#0b4687"/>
<circle cx="151.20" cy="241.80" r="1.05" fill="#0b4687"/>
<circle cx="154.50" cy="242.80" r="1.05" fill="#0b4687"/>
<circle cx="158.00" cy="240.80" r="1.05" fill="#0b4687"/>
<circle cx="158.00" cy="242.80" r="1.05" fill="#0b4687"/>
<circle cx="151.20" cy="250.50" r="1.05" fill="#0b4687"/>
<circle cx="151.20" cy="252.50" r="1.05" fill="#0b4687"/>
<circle cx="154.50" cy="251.20" r="1.05" fill="#0b4687"/>
<circle cx="154.50" cy="255.50" r="1.05" fill="#0b4687"/>
<circle cx="151.20" cy="259.00" r="1.05" fill="#0b4687"/>
<circle cx="154.50" cy="258.50" r="1.05" fill="#0b4687"/>
<circle cx="158.00" cy="257.00" r="1.05" fill="#0b4687"/>
<circle cx="158.00" cy="259.50" r="1.05" fill="#0b4687"/>
<circle cx="158.00" cy="262.00" r="1.05" fill="#0b4687"/>
<circle cx="154.50" cy="262.80" r="1.05" fill="#0b4687"/>
<circle cx="154.50" cy="265.80" r="1.05" fill="#0b4687"/>
<circle cx="151.20" cy="266.80" r="1.05" fill="#0b4687"/>
<circle cx="154.50" cy="268.50" r="1.05" fill="#0b4687"/>
<circle cx="154.50" cy="273.80" r="1.05" fill="#0b4687"/>
<circle cx="153.00" cy="277.80" r="1.05" fill="#0b4687"/>
<circle cx="156.50" cy="278.80" r="1.05" fill="#0b4687"/>
<circle cx="154.50" cy="281.00" r="1.05" fill="#0b4687"/>
<circle cx="151.20" cy="282.20" r="1.05" fill="#0b4687"/>
<circle cx="158.00" cy="282.20" r="1.05" fill="#0b4687"/>
<circle cx="187.20" cy="211.70" r="1.05" fill="#c5001a"/>
<circle cx="187.20" cy="215.00" r="1.05" fill="#c5001a"/>
<circle cx="183.80" cy="223.50" r="1.05" fill="#c5001a"/>
<circle cx="187.20" cy="222.70" r="1.05" fill="#c5001a"/>
<circle cx="190.50" cy="221.70" r="1.05" fill="#c5001a"/>
<circle cx="190.50" cy="223.75" r="1.05" fill="#c5001a"/>
<circle cx="187.20" cy="226.70" r="1.05" fill="#c5001a"/>
<circle cx="183.80" cy="229.20" r="1.05" fill="#c5001a"/>
<circle cx="190.50" cy="228.75" r="1.05" fill="#c5001a"/>
<circle cx="187.20" cy="230.40" r="1.05" fill="#c5001a"/>
<circle cx="187.20" cy="233.75" r="1.05" fill="#c5001a"/>
<circle cx="187.20" cy="235.40" r="1.05" fill="#c5001a"/>
<circle cx="187.20" cy="237.10" r="1.05" fill="#c5001a"/>
<circle cx="187.20" cy="238.75" r="1.05" fill="#c5001a"/>
<circle cx="190.50" cy="234.60" r="1.05" fill="#c5001a"/>
<circle cx="183.80" cy="237.90" r="1.05" fill="#c5001a"/>
<circle cx="190.50" cy="237.90" r="1.05" fill="#c5001a"/>
<circle cx="193.80" cy="238.90" r="1.05" fill="#c5001a"/>
<circle cx="183.80" cy="239.90" r="1.05" fill="#c5001a"/>
<circle cx="183.80" cy="241.80" r="1.05" fill="#c5001a"/>
<circle cx="183.80" cy="243.50" r="1.05" fill="#c5001a"/>
<circle cx="187.20" cy="240.40" r="1.05" fill="#c5001a"/>
<circle cx="187.20" cy="242.20" r="1.05" fill="#c5001a"/>
<circle cx="187.20" cy="244.75" r="1.05" fill="#c5001a"/>
<circle cx="190.50" cy="239.90" r="1.05" fill="#c5001a"/>
<circle cx="180.50" cy="244.75" r="1.05" fill="#c5001a"/>
<circle cx="180.50" cy="247.25" r="1.05" fill="#c5001a"/>
<circle cx="183.80" cy="245.60" r="1.05" fill="#c5001a"/>
<circle cx="190.50" cy="244.30" r="1.05" fill="#c5001a"/>
<circle cx="190.50" cy="247.25" r="1.05" fill="#c5001a"/>
<circle cx="190.50" cy="249.30" r="1.05" fill="#c5001a"/>
<circle cx="193.80" cy="247.25" r="1.05" fill="#c5001a"/>
<circle cx="183.80" cy="248.50" r="1.05" fill="#c5001a"/>
<circle cx="187.20" cy="247.70" r="1.05" fill="#c5001a"/>
<circle cx="187.20" cy="249.30" r="1.05" fill="#c5001a"/>
<circle cx="187.20" cy="250.80" r="1.05" fill="#c5001a"/>
<circle cx="180.50" cy="256.40" r="1.05" fill="#c5001a"/>
<circle cx="183.80" cy="257.50" r="1.05" fill="#c5001a"/>
<circle cx="187.20" cy="256.40" r="1.05" fill="#c5001a"/>
<circle cx="190.50" cy="256.00" r="1.05" fill="#c5001a"/>
<circle cx="193.80" cy="257.00" r="1.05" fill="#c5001a"/>
<circle cx="187.20" cy="259.75" r="1.05" fill="#c5001a"/>
<circle cx="180.50" cy="261.80" r="1.05" fill="#c5001a"/>
<circle cx="183.80" cy="263.10" r="1.05" fill="#c5001a"/>
<circle cx="190.50" cy="263.30" r="1.05" fill="#c5001a"/>
<circle cx="187.20" cy="265.30" r="1.05" fill="#c5001a"/>
<circle cx="185.50" cy="267.50" r="1.05" fill="#c5001a"/>
<circle cx="189.00" cy="268.00" r="1.05" fill="#c5001a"/>
<circle cx="187.20" cy="271.80" r="1.05" fill="#c5001a"/>
<circle cx="187.20" cy="274.80" r="1.05" fill="#c5001a"/>
<circle cx="187.20" cy="308.50" r="1.05" fill="#c5001a"/>
<text transform="translate(274.75,195.20) scale(0.9643,1)" font-size="8.4" text-anchor="middle">miR·27b·3p</text>
<path d="M244.00 198.85V330.50H305.50" fill="none" stroke="#111" stroke-width="1.2"/>
<path d="M258.50 330.50V333.40" stroke="#111" stroke-width="1.1"/>
<path d="M290.90 330.50V333.40" stroke="#111" stroke-width="1.1"/>
<path d="M240.70 330.50H244.00" stroke="#111" stroke-width="1.1"/>
<text transform="translate(234.40,334.40) scale(0.8675,1)" font-size="8.3" text-anchor="end" stroke="#1a1a1a" stroke-width="0.12">10</text>
<text transform="translate(234.70,331.30) scale(0.8750,1)" font-size="6.4" text-anchor="start">2</text>
<path d="M240.70 266.73H244.00" stroke="#111" stroke-width="1.1"/>
<text transform="translate(234.40,270.62) scale(0.8675,1)" font-size="8.3" text-anchor="end" stroke="#1a1a1a" stroke-width="0.12">10</text>
<text transform="translate(234.70,267.53) scale(0.8750,1)" font-size="6.4" text-anchor="start">3</text>
<path d="M240.70 202.95H244.00" stroke="#111" stroke-width="1.1"/>
<text transform="translate(234.40,206.85) scale(0.8675,1)" font-size="8.3" text-anchor="end" stroke="#1a1a1a" stroke-width="0.12">10</text>
<text transform="translate(234.70,203.75) scale(0.8750,1)" font-size="6.4" text-anchor="start">4</text>
<text transform="translate(258.30,342.80) scale(0.8793,1)" font-size="8.7" text-anchor="middle" stroke="#1a1a1a" stroke-width="0.18">−GVHD</text>
<text transform="translate(289.20,342.80) scale(0.8793,1)" font-size="8.7" text-anchor="middle" stroke="#1a1a1a" stroke-width="0.18">+GVHD</text>
<text transform="translate(274.50,353.10) scale(0.9873,1)" font-size="7.9" text-anchor="middle" stroke="#1a1a1a" stroke-width="0.12">p=.0024</text>
<path d="M258.50 275.20V299.80M254.10 275.20H262.90M254.10 299.80H262.90M249.70 287.20H267.30" fill="none" stroke="#111" stroke-width="1.05"/>
<path d="M290.90 266.80V291.80M286.50 266.80H295.30M286.50 291.80H295.30M282.10 279.30H299.70" fill="none" stroke="#111" stroke-width="1.05"/>
<circle cx="258.50" cy="269.00" r="1.05" fill="#0b4687"/>
<circle cx="255.20" cy="272.80" r="1.05" fill="#0b4687"/>
<circle cx="258.50" cy="272.80" r="1.05" fill="#0b4687"/>
<circle cx="261.80" cy="272.80" r="1.05" fill="#0b4687"/>
<circle cx="253.50" cy="276.50" r="1.05" fill="#0b4687"/>
<circle cx="256.80" cy="278.50" r="1.05" fill="#0b4687"/>
<circle cx="260.20" cy="277.20" r="1.05" fill="#0b4687"/>
<circle cx="263.50" cy="278.00" r="1.05" fill="#0b4687"/>
<circle cx="250.20" cy="282.50" r="1.05" fill="#0b4687"/>
<circle cx="253.50" cy="283.50" r="1.05" fill="#0b4687"/>
<circle cx="256.80" cy="283.00" r="1.05" fill="#0b4687"/>
<circle cx="256.80" cy="284.50" r="1.05" fill="#0b4687"/>
<circle cx="256.80" cy="286.00" r="1.05" fill="#0b4687"/>
<circle cx="260.20" cy="282.00" r="1.05" fill="#0b4687"/>
<circle cx="260.20" cy="284.00" r="1.05" fill="#0b4687"/>
<circle cx="260.20" cy="286.00" r="1.05" fill="#0b4687"/>
<circle cx="263.50" cy="283.20" r="1.05" fill="#0b4687"/>
<circle cx="266.50" cy="282.80" r="1.05" fill="#0b4687"/>
<circle cx="256.80" cy="288.50" r="1.05" fill="#0b4687"/>
<circle cx="256.80" cy="290.00" r="1.05" fill="#0b4687"/>
<circle cx="260.20" cy="288.00" r="1.05" fill="#0b4687"/>
<circle cx="260.20" cy="290.00" r="1.05" fill="#0b4687"/>
<circle cx="256.80" cy="291.80" r="1.05" fill="#0b4687"/>
<circle cx="260.20" cy="292.80" r="1.05" fill="#0b4687"/>
<circle cx="258.50" cy="295.50" r="1.05" fill="#0b4687"/>
<circle cx="256.80" cy="297.80" r="1.05" fill="#0b4687"/>
<circle cx="260.20" cy="297.20" r="1.05" fill="#0b4687"/>
<circle cx="256.80" cy="304.80" r="1.05" fill="#0b4687"/>
<circle cx="260.20" cy="303.50" r="1.05" fill="#0b4687"/>
<circle cx="258.50" cy="311.00" r="1.05" fill="#0b4687"/>
<circle cx="258.50" cy="324.80" r="1.05" fill="#0b4687"/>
<circle cx="290.90" cy="247.70" r="1.05" fill="#c5001a"/>
<circle cx="290.90" cy="257.80" r="1.05" fill="#c5001a"/>
<circle cx="286.00" cy="259.75" r="1.05" fill="#c5001a"/>
<circle cx="289.30" cy="260.30" r="1.05" fill="#c5001a"/>
<circle cx="292.70" cy="261.00" r="1.05" fill="#c5001a"/>
<circle cx="290.90" cy="262.70" r="1.05" fill="#c5001a"/>
<circle cx="289.30" cy="266.00" r="1.05" fill="#c5001a"/>
<circle cx="292.70" cy="265.60" r="1.05" fill="#c5001a"/>
<circle cx="289.30" cy="269.50" r="1.05" fill="#c5001a"/>
<circle cx="292.70" cy="270.20" r="1.05" fill="#c5001a"/>
<circle cx="292.70" cy="271.80" r="1.05" fill="#c5001a"/>
<circle cx="296.00" cy="271.40" r="1.05" fill="#c5001a"/>
<circle cx="296.00" cy="273.10" r="1.05" fill="#c5001a"/>
<circle cx="296.00" cy="274.75" r="1.05" fill="#c5001a"/>
<circle cx="282.80" cy="273.10" r="1.05" fill="#c5001a"/>
<circle cx="286.00" cy="274.30" r="1.05" fill="#c5001a"/>
<circle cx="289.30" cy="273.50" r="1.05" fill="#c5001a"/>
<circle cx="289.30" cy="275.50" r="1.05" fill="#c5001a"/>
<circle cx="292.70" cy="273.90" r="1.05" fill="#c5001a"/>
<circle cx="298.80" cy="273.10" r="1.05" fill="#c5001a"/>
<circle cx="286.00" cy="277.90" r="1.05" fill="#c5001a"/>
<circle cx="289.30" cy="278.30" r="1.05" fill="#c5001a"/>
<circle cx="289.30" cy="280.40" r="1.05" fill="#c5001a"/>
<circle cx="292.40" cy="275.80" r="1.05" fill="#c5001a"/>
<circle cx="292.40" cy="277.90" r="1.05" fill="#c5001a"/>
<circle cx="292.40" cy="280.00" r="1.05" fill="#c5001a"/>
<circle cx="295.75" cy="275.80" r="1.05" fill="#c5001a"/>
<circle cx="295.75" cy="277.90" r="1.05" fill="#c5001a"/>
<circle cx="295.75" cy="280.80" r="1.05" fill="#c5001a"/>
<circle cx="298.80" cy="278.20" r="1.05" fill="#c5001a"/>
<circle cx="287.70" cy="283.50" r="1.05" fill="#c5001a"/>
<circle cx="291.00" cy="284.20" r="1.05" fill="#c5001a"/>
<circle cx="294.10" cy="283.75" r="1.05" fill="#c5001a"/>
<circle cx="282.80" cy="288.30" r="1.05" fill="#c5001a"/>
<circle cx="282.80" cy="291.80" r="1.05" fill="#c5001a"/>
<circle cx="286.00" cy="291.80" r="1.05" fill="#c5001a"/>
<circle cx="289.30" cy="289.60" r="1.05" fill="#c5001a"/>
<circle cx="289.30" cy="294.20" r="1.05" fill="#c5001a"/>
<circle cx="292.40" cy="291.70" r="1.05" fill="#c5001a"/>
<circle cx="292.40" cy="295.80" r="1.05" fill="#c5001a"/>
<circle cx="295.75" cy="290.40" r="1.05" fill="#c5001a"/>
<circle cx="295.75" cy="292.50" r="1.05" fill="#c5001a"/>
<circle cx="295.75" cy="294.60" r="1.05" fill="#c5001a"/>
<circle cx="298.80" cy="290.20" r="1.05" fill="#c5001a"/>
<circle cx="291.00" cy="299.00" r="1.05" fill="#c5001a"/>
<circle cx="290.90" cy="301.20" r="1.05" fill="#c5001a"/>
<circle cx="290.90" cy="306.50" r="1.05" fill="#c5001a"/>
<text transform="translate(378.75,195.20) scale(0.9643,1)" font-size="8.4" text-anchor="middle">miR·885·3p</text>
<path d="M348.00 198.85V330.50H409.50" fill="none" stroke="#111" stroke-width="1.2"/>
<path d="M362.20 330.50V333.40" stroke="#111" stroke-width="1.1"/>
<path d="M394.70 330.50V333.40" stroke="#111" stroke-width="1.1"/>
<path d="M344.70 330.50H348.00" stroke="#111" stroke-width="1.1"/>
<text transform="translate(338.40,334.40) scale(0.8675,1)" font-size="8.3" text-anchor="end" stroke="#1a1a1a" stroke-width="0.12">10</text>
<text transform="translate(338.70,331.30) scale(0.8750,1)" font-size="6.4" text-anchor="start">1</text>
<path d="M344.70 287.98H348.00" stroke="#111" stroke-width="1.1"/>
<text transform="translate(338.40,291.88) scale(0.8675,1)" font-size="8.3" text-anchor="end" stroke="#1a1a1a" stroke-width="0.12">10</text>
<text transform="translate(338.70,288.78) scale(0.8750,1)" font-size="6.4" text-anchor="start">2</text>
<path d="M344.70 245.47H348.00" stroke="#111" stroke-width="1.1"/>
<text transform="translate(338.40,249.37) scale(0.8675,1)" font-size="8.3" text-anchor="end" stroke="#1a1a1a" stroke-width="0.12">10</text>
<text transform="translate(338.70,246.27) scale(0.8750,1)" font-size="6.4" text-anchor="start">3</text>
<path d="M344.70 202.95H348.00" stroke="#111" stroke-width="1.1"/>
<text transform="translate(338.40,206.85) scale(0.8675,1)" font-size="8.3" text-anchor="end" stroke="#1a1a1a" stroke-width="0.12">10</text>
<text transform="translate(338.70,203.75) scale(0.8750,1)" font-size="6.4" text-anchor="start">4</text>
<text transform="translate(362.30,342.80) scale(0.8793,1)" font-size="8.7" text-anchor="middle" stroke="#1a1a1a" stroke-width="0.18">−GVHD</text>
<text transform="translate(393.20,342.80) scale(0.8793,1)" font-size="8.7" text-anchor="middle" stroke="#1a1a1a" stroke-width="0.18">+GVHD</text>
<text transform="translate(378.50,353.10) scale(0.9873,1)" font-size="7.9" text-anchor="middle" stroke="#1a1a1a" stroke-width="0.12">p=.0030</text>
<path d="M362.20 268.80V302.50M357.80 268.80H366.60M357.80 302.50H366.60M353.40 285.40H371.00" fill="none" stroke="#111" stroke-width="1.05"/>
<path d="M394.70 258.10V293.90M390.30 258.10H399.10M390.30 293.90H399.10M385.90 276.00H403.50" fill="none" stroke="#111" stroke-width="1.05"/>
<circle cx="360.50" cy="254.80" r="1.05" fill="#0b4687"/>
<circle cx="364.00" cy="256.20" r="1.05" fill="#0b4687"/>
<circle cx="362.20" cy="258.00" r="1.05" fill="#0b4687"/>
<circle cx="362.20" cy="259.80" r="1.05" fill="#0b4687"/>
<circle cx="362.20" cy="265.50" r="1.05" fill="#0b4687"/>
<circle cx="362.20" cy="270.00" r="1.05" fill="#0b4687"/>
<circle cx="362.20" cy="273.00" r="1.05" fill="#0b4687"/>
<circle cx="360.50" cy="276.20" r="1.05" fill="#0b4687"/>
<circle cx="360.50" cy="278.50" r="1.05" fill="#0b4687"/>
<circle cx="360.50" cy="281.20" r="1.05" fill="#0b4687"/>
<circle cx="364.00" cy="276.80" r="1.05" fill="#0b4687"/>
<circle cx="364.00" cy="279.80" r="1.05" fill="#0b4687"/>
<circle cx="364.00" cy="282.50" r="1.05" fill="#0b4687"/>
<circle cx="362.20" cy="286.20" r="1.05" fill="#0b4687"/>
<circle cx="357.20" cy="290.50" r="1.05" fill="#0b4687"/>
<circle cx="360.50" cy="289.00" r="1.05" fill="#0b4687"/>
<circle cx="360.50" cy="290.80" r="1.05" fill="#0b4687"/>
<circle cx="364.00" cy="290.50" r="1.05" fill="#0b4687"/>
<circle cx="367.50" cy="289.20" r="1.05" fill="#0b4687"/>
<circle cx="360.50" cy="295.20" r="1.05" fill="#0b4687"/>
<circle cx="364.00" cy="295.00" r="1.05" fill="#0b4687"/>
<circle cx="360.50" cy="299.80" r="1.05" fill="#0b4687"/>
<circle cx="364.00" cy="301.00" r="1.05" fill="#0b4687"/>
<circle cx="362.20" cy="303.50" r="1.05" fill="#0b4687"/>
<circle cx="360.50" cy="306.00" r="1.05" fill="#0b4687"/>
<circle cx="360.50" cy="307.80" r="1.05" fill="#0b4687"/>
<circle cx="364.00" cy="306.50" r="1.05" fill="#0b4687"/>
<circle cx="360.50" cy="312.00" r="1.05" fill="#0b4687"/>
<circle cx="364.00" cy="310.80" r="1.05" fill="#0b4687"/>
<circle cx="394.80" cy="227.70" r="1.05" fill="#c5001a"/>
<circle cx="394.80" cy="248.90" r="1.05" fill="#c5001a"/>
<circle cx="394.80" cy="250.60" r="1.05" fill="#c5001a"/>
<circle cx="394.80" cy="253.30" r="1.05" fill="#c5001a"/>
<circle cx="397.90" cy="249.50" r="1.05" fill="#c5001a"/>
<circle cx="397.90" cy="252.00" r="1.05" fill="#c5001a"/>
<circle cx="397.90" cy="254.75" r="1.05" fill="#c5001a"/>
<circle cx="391.25" cy="255.20" r="1.05" fill="#c5001a"/>
<circle cx="394.80" cy="256.50" r="1.05" fill="#c5001a"/>
<circle cx="392.90" cy="258.50" r="1.05" fill="#c5001a"/>
<circle cx="396.50" cy="258.75" r="1.05" fill="#c5001a"/>
<circle cx="387.90" cy="262.90" r="1.05" fill="#c5001a"/>
<circle cx="391.25" cy="262.30" r="1.05" fill="#c5001a"/>
<circle cx="394.80" cy="263.20" r="1.05" fill="#c5001a"/>
<circle cx="397.90" cy="262.90" r="1.05" fill="#c5001a"/>
<circle cx="401.50" cy="261.50" r="1.05" fill="#c5001a"/>
<circle cx="394.80" cy="267.10" r="1.05" fill="#c5001a"/>
<circle cx="392.90" cy="269.80" r="1.05" fill="#c5001a"/>
<circle cx="396.50" cy="270.00" r="1.05" fill="#c5001a"/>
<circle cx="394.80" cy="273.50" r="1.05" fill="#c5001a"/>
<circle cx="397.90" cy="273.30" r="1.05" fill="#c5001a"/>
<circle cx="391.25" cy="274.80" r="1.05" fill="#c5001a"/>
<circle cx="394.80" cy="276.00" r="1.05" fill="#c5001a"/>
<circle cx="397.90" cy="275.40" r="1.05" fill="#c5001a"/>
<circle cx="387.90" cy="279.50" r="1.05" fill="#c5001a"/>
<circle cx="391.25" cy="278.90" r="1.05" fill="#c5001a"/>
<circle cx="391.25" cy="280.60" r="1.05" fill="#c5001a"/>
<circle cx="401.50" cy="279.50" r="1.05" fill="#c5001a"/>
<circle cx="394.80" cy="281.80" r="1.05" fill="#c5001a"/>
<circle cx="394.80" cy="283.50" r="1.05" fill="#c5001a"/>
<circle cx="394.80" cy="286.00" r="1.05" fill="#c5001a"/>
<circle cx="397.90" cy="280.30" r="1.05" fill="#c5001a"/>
<circle cx="397.90" cy="282.70" r="1.05" fill="#c5001a"/>
<circle cx="401.50" cy="281.80" r="1.05" fill="#c5001a"/>
<circle cx="391.25" cy="284.75" r="1.05" fill="#c5001a"/>
<circle cx="391.25" cy="286.80" r="1.05" fill="#c5001a"/>
<circle cx="397.90" cy="287.25" r="1.05" fill="#c5001a"/>
<circle cx="401.50" cy="286.20" r="1.05" fill="#c5001a"/>
<circle cx="391.25" cy="291.70" r="1.05" fill="#c5001a"/>
<circle cx="394.80" cy="291.70" r="1.05" fill="#c5001a"/>
<circle cx="397.90" cy="290.80" r="1.05" fill="#c5001a"/>
<circle cx="397.90" cy="293.90" r="1.05" fill="#c5001a"/>
<circle cx="391.25" cy="295.00" r="1.05" fill="#c5001a"/>
<circle cx="394.80" cy="295.20" r="1.05" fill="#c5001a"/>
<circle cx="392.90" cy="297.50" r="1.05" fill="#c5001a"/>
<circle cx="396.50" cy="297.25" r="1.05" fill="#c5001a"/>
<circle cx="392.90" cy="300.80" r="1.05" fill="#c5001a"/>
<circle cx="396.50" cy="300.60" r="1.05" fill="#c5001a"/>
<circle cx="394.80" cy="306.00" r="1.05" fill="#c5001a"/>
<circle cx="394.80" cy="321.50" r="1.05" fill="#c5001a"/>
<text transform="translate(482.35,195.20) scale(0.9643,1)" font-size="8.4" text-anchor="middle">miR·139·5p</text>
<path d="M451.60 198.85V330.50H513.10" fill="none" stroke="#111" stroke-width="1.2"/>
<path d="M466.00 330.50V333.40" stroke="#111" stroke-width="1.1"/>
<path d="M498.50 330.50V333.40" stroke="#111" stroke-width="1.1"/>
<path d="M448.30 330.50H451.60" stroke="#111" stroke-width="1.1"/>
<text transform="translate(442.00,334.40) scale(0.8675,1)" font-size="8.3" text-anchor="end" stroke="#1a1a1a" stroke-width="0.12">10</text>
<text transform="translate(442.30,331.30) scale(0.8750,1)" font-size="6.4" text-anchor="start">0</text>
<path d="M448.30 287.98H451.60" stroke="#111" stroke-width="1.1"/>
<text transform="translate(442.00,291.88) scale(0.8675,1)" font-size="8.3" text-anchor="end" stroke="#1a1a1a" stroke-width="0.12">10</text>
<text transform="translate(442.30,288.78) scale(0.8750,1)" font-size="6.4" text-anchor="start">1</text>
<path d="M448.30 245.47H451.60" stroke="#111" stroke-width="1.1"/>
<text transform="translate(442.00,249.37) scale(0.8675,1)" font-size="8.3" text-anchor="end" stroke="#1a1a1a" stroke-width="0.12">10</text>
<text transform="translate(442.30,246.27) scale(0.8750,1)" font-size="6.4" text-anchor="start">2</text>
<path d="M448.30 202.95H451.60" stroke="#111" stroke-width="1.1"/>
<text transform="translate(442.00,206.85) scale(0.8675,1)" font-size="8.3" text-anchor="end" stroke="#1a1a1a" stroke-width="0.12">10</text>
<text transform="translate(442.30,203.75) scale(0.8750,1)" font-size="6.4" text-anchor="start">3</text>
<text transform="translate(465.90,342.80) scale(0.8793,1)" font-size="8.7" text-anchor="middle" stroke="#1a1a1a" stroke-width="0.18">−GVHD</text>
<text transform="translate(496.80,342.80) scale(0.8793,1)" font-size="8.7" text-anchor="middle" stroke="#1a1a1a" stroke-width="0.18">+GVHD</text>
<text transform="translate(482.10,353.10) scale(0.9873,1)" font-size="7.9" text-anchor="middle" stroke="#1a1a1a" stroke-width="0.12">p=.0038</text>
<path d="M466.00 256.20V282.30M461.60 256.20H470.40M461.60 282.30H470.40M457.20 269.20H474.80" fill="none" stroke="#111" stroke-width="1.05"/>
<path d="M498.50 251.25V268.25M494.10 251.25H502.90M494.10 268.25H502.90M489.70 260.00H507.30" fill="none" stroke="#111" stroke-width="1.05"/>
<circle cx="466.00" cy="251.50" r="1.05" fill="#0b4687"/>
<circle cx="466.00" cy="253.00" r="1.05" fill="#0b4687"/>
<circle cx="462.70" cy="253.30" r="1.05" fill="#0b4687"/>
<circle cx="469.30" cy="253.30" r="1.05" fill="#0b4687"/>
<circle cx="461.00" cy="257.30" r="1.05" fill="#0b4687"/>
<circle cx="464.50" cy="258.80" r="1.05" fill="#0b4687"/>
<circle cx="467.70" cy="257.50" r="1.05" fill="#0b4687"/>
<circle cx="467.70" cy="259.00" r="1.05" fill="#0b4687"/>
<circle cx="471.20" cy="257.20" r="1.05" fill="#0b4687"/>
<circle cx="467.70" cy="261.70" r="1.05" fill="#0b4687"/>
<circle cx="464.50" cy="263.60" r="1.05" fill="#0b4687"/>
<circle cx="461.00" cy="265.25" r="1.05" fill="#0b4687"/>
<circle cx="467.70" cy="265.80" r="1.05" fill="#0b4687"/>
<circle cx="471.20" cy="264.20" r="1.05" fill="#0b4687"/>
<circle cx="464.50" cy="269.20" r="1.05" fill="#0b4687"/>
<circle cx="467.70" cy="268.60" r="1.05" fill="#0b4687"/>
<circle cx="464.50" cy="271.30" r="1.05" fill="#0b4687"/>
<circle cx="464.50" cy="273.50" r="1.05" fill="#0b4687"/>
<circle cx="467.70" cy="273.50" r="1.05" fill="#0b4687"/>
<circle cx="464.50" cy="276.30" r="1.05" fill="#0b4687"/>
<circle cx="464.50" cy="277.80" r="1.05" fill="#0b4687"/>
<circle cx="467.70" cy="276.75" r="1.05" fill="#0b4687"/>
<circle cx="467.70" cy="278.40" r="1.05" fill="#0b4687"/>
<circle cx="466.00" cy="280.90" r="1.05" fill="#0b4687"/>
<circle cx="466.00" cy="287.80" r="1.05" fill="#0b4687"/>
<circle cx="462.70" cy="294.00" r="1.05" fill="#0b4687"/>
<circle cx="466.00" cy="293.00" r="1.05" fill="#0b4687"/>
<circle cx="469.30" cy="293.80" r="1.05" fill="#0b4687"/>
<circle cx="496.90" cy="244.00" r="1.05" fill="#c5001a"/>
<circle cx="496.90" cy="245.90" r="1.05" fill="#c5001a"/>
<circle cx="500.00" cy="245.30" r="1.05" fill="#c5001a"/>
<circle cx="493.90" cy="248.50" r="1.05" fill="#c5001a"/>
<circle cx="496.90" cy="249.90" r="1.05" fill="#c5001a"/>
<circle cx="500.00" cy="248.70" r="1.05" fill="#c5001a"/>
<circle cx="500.00" cy="250.70" r="1.05" fill="#c5001a"/>
<circle cx="500.00" cy="252.70" r="1.05" fill="#c5001a"/>
<circle cx="500.00" cy="254.70" r="1.05" fill="#c5001a"/>
<circle cx="500.00" cy="256.70" r="1.05" fill="#c5001a"/>
<circle cx="500.00" cy="258.70" r="1.05" fill="#c5001a"/>
<circle cx="500.00" cy="260.70" r="1.05" fill="#c5001a"/>
<circle cx="500.00" cy="262.70" r="1.05" fill="#c5001a"/>
<circle cx="503.20" cy="249.30" r="1.05" fill="#c5001a"/>
<circle cx="503.20" cy="251.70" r="1.05" fill="#c5001a"/>
<circle cx="503.20" cy="254.00" r="1.05" fill="#c5001a"/>
<circle cx="503.20" cy="256.00" r="1.05" fill="#c5001a"/>
<circle cx="493.90" cy="252.50" r="1.05" fill="#c5001a"/>
<circle cx="496.90" cy="253.30" r="1.05" fill="#c5001a"/>
<circle cx="490.70" cy="255.30" r="1.05" fill="#c5001a"/>
<circle cx="493.90" cy="257.00" r="1.05" fill="#c5001a"/>
<circle cx="493.90" cy="258.70" r="1.05" fill="#c5001a"/>
<circle cx="496.90" cy="257.20" r="1.05" fill="#c5001a"/>
<circle cx="506.30" cy="256.00" r="1.05" fill="#c5001a"/>
<circle cx="490.70" cy="259.30" r="1.05" fill="#c5001a"/>
<circle cx="490.70" cy="261.30" r="1.05" fill="#c5001a"/>
<circle cx="490.70" cy="263.30" r="1.05" fill="#c5001a"/>
<circle cx="496.90" cy="260.00" r="1.05" fill="#c5001a"/>
<circle cx="493.90" cy="263.30" r="1.05" fill="#c5001a"/>
<circle cx="503.20" cy="260.00" r="1.05" fill="#c5001a"/>
<circle cx="503.20" cy="262.00" r="1.05" fill="#c5001a"/>
<circle cx="506.30" cy="260.30" r="1.05" fill="#c5001a"/>
<circle cx="506.30" cy="262.30" r="1.05" fill="#c5001a"/>
<circle cx="490.50" cy="265.75" r="1.05" fill="#c5001a"/>
<circle cx="493.80" cy="265.30" r="1.05" fill="#c5001a"/>
<circle cx="493.80" cy="267.80" r="1.05" fill="#c5001a"/>
<circle cx="496.90" cy="264.90" r="1.05" fill="#c5001a"/>
<circle cx="496.90" cy="267.00" r="1.05" fill="#c5001a"/>
<circle cx="496.90" cy="269.10" r="1.05" fill="#c5001a"/>
<circle cx="500.00" cy="265.30" r="1.05" fill="#c5001a"/>
<circle cx="500.00" cy="268.25" r="1.05" fill="#c5001a"/>
<circle cx="503.30" cy="264.50" r="1.05" fill="#c5001a"/>
<circle cx="503.30" cy="266.20" r="1.05" fill="#c5001a"/>
<circle cx="506.30" cy="265.30" r="1.05" fill="#c5001a"/>
<circle cx="496.90" cy="273.70" r="1.05" fill="#c5001a"/>
<circle cx="500.00" cy="273.00" r="1.05" fill="#c5001a"/>
<circle cx="498.60" cy="276.80" r="1.05" fill="#c5001a"/>
<circle cx="498.60" cy="288.80" r="1.05" fill="#c5001a"/>
</svg></body></html>
